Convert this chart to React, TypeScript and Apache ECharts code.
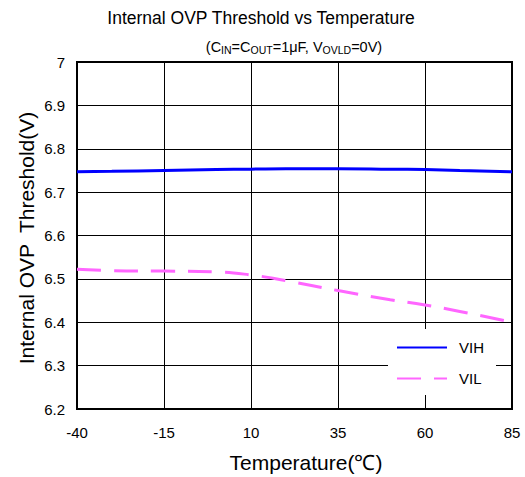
import React, { useEffect, useRef } from "react";
import * as echarts from "echarts";

const temps = [-40, -30, -15, 0, 10, 20, 35, 50, 60, 70, 85];
const vih = [6.747, 6.748, 6.750, 6.752, 6.753, 6.754, 6.754, 6.753, 6.752, 6.750, 6.747];
const vil = [6.522, 6.519, 6.518, 6.516, 6.509, 6.496, 6.473, 6.452, 6.440, 6.425, 6.400];
const xTicks = [-40, -15, 10, 35, 60, 85];
const yMin = 6.2;
const yMax = 7;
const X0 = -40;

export default function App() {
  const ref = useRef<HTMLDivElement>(null);
  useEffect(() => {
    const chart = echarts.init(ref.current!, null, { renderer: "svg" });
    const font = "Arial, 'Liberation Sans', sans-serif";
    chart.setOption({
      animation: false,
      textStyle: { fontFamily: font },
      grid: {
        left: 77,
        right: 13,
        top: 62,
        bottom: 68,
        show: true,
        borderColor: "#000",
        borderWidth: 2,
        backgroundColor: "transparent",
      },
      graphic: [
        {
          type: "text",
          x: 261,
          y: 18,
          style: {
            text: "Internal OVP Threshold vs Temperature",
            fontSize: 17.5,
            fontFamily: font,
            fill: "#000",
            align: "center",
            verticalAlign: "middle",
          },
        },
        {
          type: "text",
          x: 294,
          y: 47,
          style: {
            text: "(C{s|IN}=C{s|OUT}=1μF, V{s|OVLD}=0V)",
            fontSize: 14.5,
            fontFamily: font,
            fill: "#000",
            align: "center",
            verticalAlign: "middle",
            rich: {
              s: { fontSize: 10.5, fontFamily: font, fill: "#000", padding: [5, 0, 0, 0] },
            },
          },
        },
        {
          type: "text",
          x: 306,
          y: 462,
          style: {
            text: "Temperature(℃)",
            fontSize: 21,
            fontFamily: font,
            fill: "#000",
            align: "center",
            verticalAlign: "middle",
          },
        },
        {
          type: "text",
          x: 26,
          y: 238,
          rotation: Math.PI / 2,
          style: {
            text: "Internal OVP  Threshold(V)",
            fontSize: 21,
            fontFamily: font,
            fill: "#000",
            align: "center",
            verticalAlign: "middle",
          },
        },
      ],
      legend: {
        orient: "vertical",
        left: 388,
        top: 329,
        width: 107,
        padding: [11, 12, 9, 8],
        itemGap: 16,
        itemWidth: 50,
        itemHeight: 14,
        backgroundColor: "#fff",
        itemStyle: { opacity: 0 },
        textStyle: { fontSize: 15, color: "#000", fontFamily: font, padding: [0, 0, 0, 7] },
        data: ["VIH", "VIL"],
      },
      xAxis: {
        type: "value",
        min: 0,
        max: xTicks[xTicks.length - 1] - X0,
        interval: 25,
        axisLine: { show: false },
        axisTick: { show: false },
        axisLabel: {
          fontSize: 15,
          color: "#000",
          margin: 16,
          formatter: (v: number) => String(v + X0),
        },
        splitLine: { show: true, lineStyle: { color: "#000", width: 1 } },
      },
      yAxis: {
        type: "value",
        min: yMin,
        max: yMax,
        interval: 0.1,
        axisLine: { show: false },
        axisTick: { show: false },
        axisLabel: {
          fontSize: 15,
          color: "#000",
          margin: 12,
          formatter: (v: number) => String(Math.round(v * 10) / 10),
        },
        splitLine: { show: true, lineStyle: { color: "#000", width: 1 } },
      },
      series: [
        {
          name: "VIH",
          type: "line",
          smooth: true,
          symbol: "none",
          data: temps.map((t, i) => [t - X0, vih[i]]),
          lineStyle: { color: "#0000ff", width: 3 },
          itemStyle: { color: "#0000ff" },
        },
        {
          name: "VIL",
          type: "line",
          smooth: true,
          symbol: "none",
          data: temps.map((t, i) => [t - X0, vil[i]]),
          lineStyle: { color: "#ff66ff", width: 3, type: [24, 13] },
          itemStyle: { color: "#ff66ff" },
        },
      ],
    });
    return () => chart.dispose();
  }, []);
  return (
    <div
      ref={ref}
      style={{ position: "fixed", left: 0, top: 0, width: 525, height: 477, background: "#fff" }}
    />
  );
}
